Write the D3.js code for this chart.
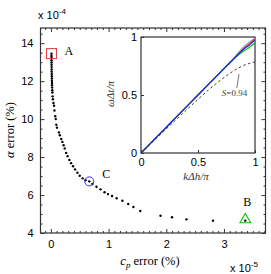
<!DOCTYPE html>
<html>
<head>
<meta charset="utf-8">
<script src="https://cdn.jsdelivr.net/npm/d3@7"></script>
<style>
  body { margin: 0; background: #fff; }
  svg { display: block; }
</style>
</head>
<body>
<div id="chart"></div>
<script>
// main scatter: c_p error (x 1e-5) vs alpha error (x 1e-4)
const cpErr = [0.010, 0.010, 0.011, 0.011, 0.012, 0.012, 0.013, 0.013, 0.014, 0.015,
  0.016, 0.017, 0.018, 0.019, 0.020, 0.022, 0.024, 0.026, 0.030, 0.035,
  0.045, 0.055, 0.062, 0.075, 0.085, 0.095, 0.105, 0.140, 0.155, 0.180,
  0.200, 0.220, 0.240, 0.265, 0.290, 0.320, 0.350, 0.385, 0.420, 0.460,
  0.500, 0.550, 0.600, 0.665, 0.720, 0.790, 0.860, 0.930, 0.990, 1.060,
  1.140, 1.240, 1.340, 1.430, 1.550, 1.900, 2.100, 2.350, 2.810, 3.370];
const alphaErr = [13.45, 13.33, 13.22, 13.10, 12.98, 12.86, 12.74, 12.62, 12.50, 12.38,
  12.26, 12.14, 12.02, 11.90, 11.78, 11.66, 11.52, 11.40, 11.20, 11.05,
  10.85, 10.70, 10.45, 10.15, 10.00, 9.70, 9.55, 9.30, 9.15, 8.95,
  8.80, 8.62, 8.45, 8.22, 8.05, 7.85, 7.68, 7.52, 7.35, 7.18,
  7.02, 6.88, 6.78, 6.72, 6.58, 6.44, 6.30, 6.15, 6.05, 5.95,
  5.83, 5.70, 5.53, 5.37, 5.16, 4.91, 4.83, 4.72, 4.65, 4.65];

// highlighted points A, B, C
const markLabels = ["A", "B", "C"];
const markCp = [0.01, 3.37, 0.665];
const markAlpha = [13.45, 4.65, 6.72];

const xTicks = [0, 1, 2, 3];
const yTicks = [4, 6, 8, 10, 12, 14];

// inset: dispersion curves
const insetK = [0, 0.1, 0.2, 0.3, 0.4, 0.5, 0.6, 0.7, 0.8, 0.85, 0.9, 0.95, 1.0];
const wGray  = [0, 0.1, 0.2, 0.3, 0.4, 0.5, 0.6, 0.7, 0.8, 0.86, 0.915, 0.955, 0.99];
const wRed   = [0, 0.1, 0.2, 0.3, 0.4, 0.5, 0.6, 0.7, 0.8, 0.85, 0.90, 0.94, 0.985];
const wBlue  = [0, 0.1, 0.2, 0.3, 0.4, 0.5, 0.6, 0.7, 0.8, 0.848, 0.895, 0.93, 0.975];
const wGreen = [0, 0.1, 0.2, 0.3, 0.4, 0.5, 0.6, 0.7, 0.795, 0.84, 0.88, 0.91, 0.95];
const wS094  = [0, 0.094, 0.188, 0.28, 0.372, 0.463, 0.55, 0.63, 0.70, 0.73, 0.755, 0.772, 0.785];
const insetTicks = [0, 0.5, 1];

const W = 271, H = 274;
const svg = d3.select("#chart").append("svg")
  .attr("width", W).attr("height", H);

const sans = "'Liberation Sans', Arial, sans-serif";
const serif = "'Liberation Serif', 'Times New Roman', serif";
const axisCol = "#333";

const x = d3.scaleLinear().domain([-0.18, 3.72]).range([40.5, 265.5]);
const y = d3.scaleLinear().domain([4, 14.8]).range([233, 28]);

// minor ticks
const xMinor = d3.range(-0.1, 3.71, 0.1).filter(v => Math.abs(v - Math.round(v)) > 0.01);
const yMinor = d3.range(4.5, 14.8, 0.5).filter(v => Math.abs(v / 2 - Math.round(v / 2)) > 0.01);

function styleAxis(g) {
  g.select(".domain").remove();
  g.selectAll("line").attr("stroke", axisCol);
  g.selectAll("text").attr("font-family", sans).attr("font-size", 11).attr("fill", "#000");
}

svg.append("g").attr("transform", "translate(0,233)")
  .call(d3.axisBottom(x).tickValues(xTicks).tickFormat(d3.format("d")).tickSize(-4).tickPadding(7))
  .call(styleAxis);
svg.append("g").attr("transform", "translate(0,233)")
  .call(d3.axisBottom(x).tickValues(xMinor).tickFormat("").tickSize(-2))
  .call(styleAxis);
svg.append("g").attr("transform", "translate(0,28)")
  .call(d3.axisTop(x).tickValues(xTicks).tickFormat("").tickSize(-4))
  .call(styleAxis);
svg.append("g").attr("transform", "translate(0,28)")
  .call(d3.axisTop(x).tickValues(xMinor).tickFormat("").tickSize(-2))
  .call(styleAxis);

svg.append("g").attr("transform", "translate(40.5,0)")
  .call(d3.axisLeft(y).tickValues(yTicks).tickFormat(d3.format("d")).tickSize(-4).tickPadding(7))
  .call(styleAxis);
svg.append("g").attr("transform", "translate(40.5,0)")
  .call(d3.axisLeft(y).tickValues(yMinor).tickFormat("").tickSize(-2))
  .call(styleAxis);
svg.append("g").attr("transform", "translate(265.5,0)")
  .call(d3.axisRight(y).tickValues(yTicks).tickFormat("").tickSize(-4))
  .call(styleAxis);
svg.append("g").attr("transform", "translate(265.5,0)")
  .call(d3.axisRight(y).tickValues(yMinor).tickFormat("").tickSize(-2))
  .call(styleAxis);

svg.append("rect")
  .attr("x", 40.5).attr("y", 28).attr("width", 225).attr("height", 205)
  .attr("fill", "none").attr("stroke", axisCol).attr("stroke-width", 1.2);

// scatter dots
svg.append("g").selectAll("circle")
  .data(cpErr.map((d, i) => [d, alphaErr[i]]))
  .join("circle")
    .attr("cx", d => x(d[0]))
    .attr("cy", d => y(d[1]))
    .attr("r", 1.2)
    .attr("fill", "#000");

// markers
svg.append("rect")
  .attr("x", x(markCp[0]) - 5).attr("y", y(markAlpha[0]) - 5)
  .attr("width", 10).attr("height", 10)
  .attr("fill", "none").attr("stroke", "#e8383b").attr("stroke-width", 1);
svg.append("path")
  .attr("d", d3.symbol().type(d3.symbolTriangle).size(50)())
  .attr("transform", `translate(${x(markCp[1])},${y(markAlpha[1]) - 1})`)
  .attr("fill", "none").attr("stroke", "#10c010").attr("stroke-width", 1.1);
svg.append("circle")
  .attr("cx", x(markCp[2])).attr("cy", y(markAlpha[2])).attr("r", 4.5)
  .attr("fill", "none").attr("stroke", "#3333ee").attr("stroke-width", 1);

const labelOff = [[13, -1], [-2, -17], [13, -6]];
svg.append("g").selectAll("text")
  .data(markLabels)
  .join("text")
    .attr("x", (d, i) => x(markCp[i]) + labelOff[i][0])
    .attr("y", (d, i) => y(markAlpha[i]) + labelOff[i][1])
    .attr("font-family", serif).attr("font-size", 12)
    .attr("dominant-baseline", "middle")
    .text(d => d);

// axis labels
svg.append("text")
  .attr("x", 150).attr("y", 265).attr("text-anchor", "middle")
  .attr("font-family", serif).attr("font-size", 12.5)
  .html("<tspan font-style='italic'>c</tspan><tspan font-style='italic' font-size='9' dy='3'>p</tspan><tspan dy='-3'> error (%)</tspan>");
svg.append("text")
  .attr("transform", "translate(14,130) rotate(-90)").attr("text-anchor", "middle")
  .attr("font-family", serif).attr("font-size", 12.5)
  .html("<tspan font-style='italic'>α</tspan> error (%)");

svg.append("text")
  .attr("x", 38).attr("y", 19)
  .attr("font-family", sans).attr("font-size", 11)
  .html("x 10<tspan font-size='8' dy='-5'>-4</tspan>");
svg.append("text")
  .attr("x", 230).attr("y", 272)
  .attr("font-family", sans).attr("font-size", 11)
  .html("x 10<tspan font-size='8' dy='-5'>-5</tspan>");

// inset
const ix = d3.scaleLinear().domain([0, 1]).range([141, 255]);
const iy = d3.scaleLinear().domain([0, 1]).range([153, 37]);
const inset = svg.append("g");

inset.append("rect")
  .attr("x", 141).attr("y", 37).attr("width", 114).attr("height", 116)
  .attr("fill", "#fff").attr("stroke", axisCol).attr("stroke-width", 1.2);

inset.append("g").attr("transform", "translate(0,153)")
  .call(d3.axisBottom(ix).tickValues(insetTicks).tickFormat(d => d).tickSize(-3).tickPadding(5))
  .call(styleAxis);
inset.append("g").attr("transform", "translate(141,0)")
  .call(d3.axisLeft(iy).tickValues(insetTicks).tickFormat(d => d).tickSize(-3).tickPadding(4))
  .call(styleAxis);

const line = d3.line().x((d, i) => ix(insetK[i])).y(d => iy(d)).curve(d3.curveMonotoneX);
const series = [
  [wGray, "#999", null],
  [wRed, "#e04848", null],
  [wGreen, "#10c010", null],
  [wBlue, "#2222ee", null],
  [wS094, "#222", "2.5,2.5"]
];
inset.append("g").selectAll("path")
  .data(series)
  .join("path")
    .attr("d", d => line(d[0]))
    .attr("fill", "none")
    .attr("stroke", d => d[1])
    .attr("stroke-width", d => d[2] ? 0.9 : 1.2)
    .attr("stroke-dasharray", d => d[2]);

inset.append("line")
  .attr("x1", ix(0.84)).attr("y1", iy(0.56))
  .attr("x2", ix(0.86)).attr("y2", iy(0.68))
  .attr("stroke", "#333").attr("stroke-width", 0.7);
inset.append("text")
  .attr("x", ix(0.82)).attr("y", iy(0.49))
  .attr("text-anchor", "middle")
  .attr("font-family", serif).attr("font-size", 9).attr("fill", "#444")
  .html("<tspan font-style='italic'>S</tspan>=0.94");

inset.append("text")
  .attr("x", 196).attr("y", 180).attr("text-anchor", "middle")
  .attr("font-family", serif).attr("font-size", 11).attr("font-style", "italic").attr("fill", "#333")
  .text("kΔh/π");
inset.append("text")
  .attr("transform", "translate(114,94) rotate(-90)").attr("text-anchor", "middle")
  .attr("font-family", serif).attr("font-size", 11).attr("font-style", "italic").attr("fill", "#333")
  .text("ωΔt/π");
</script>
</body>
</html>
